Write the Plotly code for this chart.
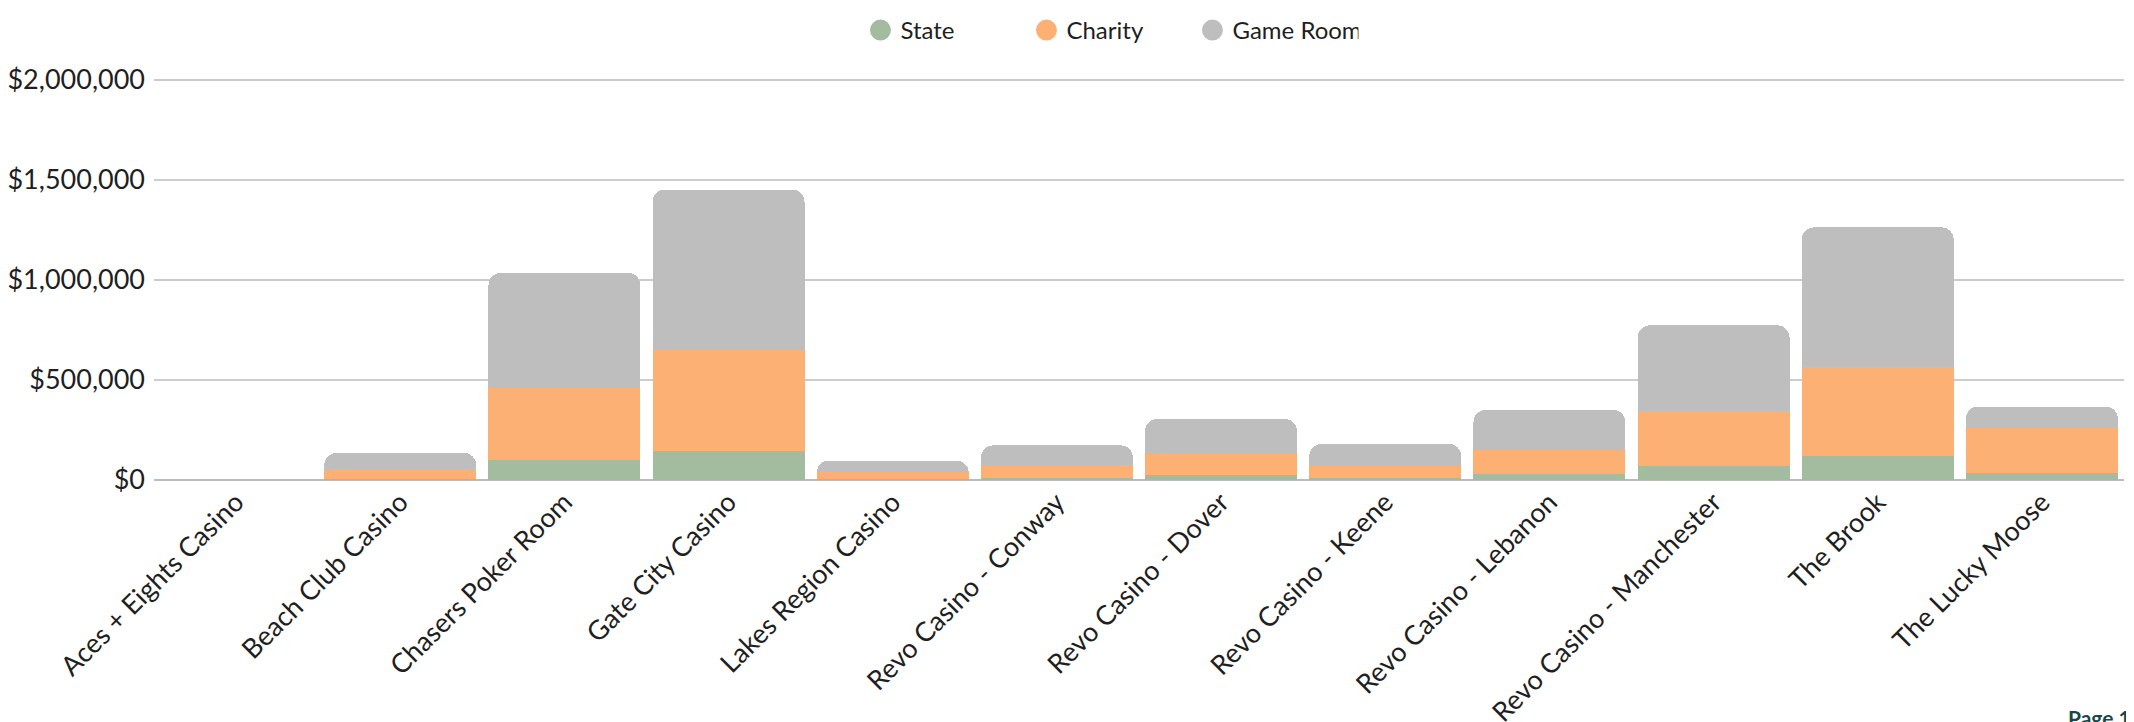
import plotly.graph_objects as go

categories = ["Aces + Eights Casino", "Beach Club Casino", "Chasers Poker Room", "Gate City Casino",
              "Lakes Region Casino", "Revo Casino - Conway", "Revo Casino - Dover", "Revo Casino - Keene",
              "Revo Casino - Lebanon", "Revo Casino - Manchester", "The Brook", "The Lucky Moose"]
state = [0, 7000, 98000, 143000, 6000, 10000, 25000, 10000, 30000, 72000, 120000, 35000]
charity = [0, 48000, 364000, 509000, 34000, 65000, 112000, 65000, 120000, 275000, 443000, 225000]
game_room = [0, 80000, 573000, 800000, 57000, 98000, 168000, 105000, 200000, 426000, 700000, 107000]

tick_vals = [0, 500000, 1000000, 1500000, 2000000]
tick_text = ["$0", "$500,000", "$1,000,000", "$1,500,000", "$2,000,000"]

series = [("State", state, "#a3bb9f"), ("Charity", charity, "#fcb073"), ("Game Room", game_room, "#bebebe")]

fig = go.Figure()
for name, vals, col in series:
    fig.add_trace(go.Bar(x=categories, y=vals, name=name, marker_color=col,
                         marker_line_width=0, showlegend=False, legendgroup=name))
for name, vals, col in series:
    fig.add_trace(go.Scatter(x=[None], y=[None], mode="markers", name=name, legendgroup=name,
                             marker=dict(symbol="circle", size=23, color=col,
                                         line=dict(width=5, color=col))))

FONT = "Lato, 'Open Sans', sans-serif"
L, R, T, B = 146, 18, 68, 250
fig.update_layout(
    barmode="stack", bargap=0.075, barcornerradius=12,
    width=2134, height=722, paper_bgcolor="white", plot_bgcolor="white",
    margin=dict(l=L, r=R, t=T, b=B, autoexpand=False),
    font=dict(family=FONT, size=27, color="#1f1f1f"),
    legend=dict(orientation="h", x=0.485, xanchor="center", y=1.0, yanchor="top",
                yref="container", font=dict(size=24), entrywidth=121, itemsizing="trace"),
    xaxis=dict(tickangle=-45, showgrid=False, showline=False, ticks="", automargin=False,
               tickfont=dict(size=27, color="#1f1f1f")),
    yaxis=dict(range=[0, 2020000], tickvals=tick_vals, ticktext=tick_text, showgrid=True,
               gridcolor="#cccccc", gridwidth=1.5, zeroline=True, zerolinecolor="#bbbbbb",
               zerolinewidth=1.5, ticks="", automargin=False, ticklabelstandoff=8,
               tickfont=dict(size=27, color="#1f1f1f")),
)
fig.add_annotation(text="<b>Page 1</b>", xref="paper", yref="paper", xanchor="left", yanchor="bottom",
                   x=(2058 - L) / (2134 - L - R), y=-(B + 2) / (722 - T - B), showarrow=False,
                   font=dict(size=21, color="#17474a", family=FONT))
fig.write_html("out.html")
